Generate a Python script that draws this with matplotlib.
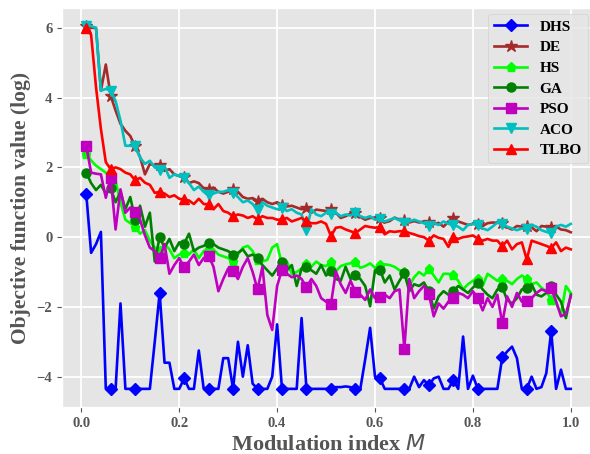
import numpy as np
import matplotlib
matplotlib.use("Agg")
import matplotlib.pyplot as plt

# modulation index grid, 0.01 .. 1.00
m_index = np.round(np.arange(1, 101) / 100, 2)

dhs = [1.25, -0.45, -0.2, 0.15, -4.35, -4.35, -4.35, -1.9, -4.35, -4.35,
       -4.35, -4.35, -4.35, -4.35, -3.0, -1.6, -3.6, -3.6, -4.35, -4.35,
       -4.05, -4.35, -4.35, -3.25, -4.35, -4.35, -4.35, -4.35, -3.47, -3.47,
       -4.35, -3.0, -4.0, -3.1, -4.2, -4.35, -4.35, -4.35, -4.0, -2.5,
       -4.35, -4.35, -4.35, -4.35, -2.32, -4.35, -4.35, -4.35, -4.35, -4.35,
       -4.35, -4.3, -4.3, -4.28, -4.3, -4.35, -4.35, -3.5, -2.6, -4.0,
       -4.05, -4.35, -4.35, -4.35, -4.35, -4.35, -4.35, -4.0, -4.3, -4.1,
       -4.25, -4.05, -4.0, -4.35, -4.35, -4.1, -4.35, -2.85, -4.35, -3.97,
       -4.35, -4.35, -4.35, -4.35, -4.35, -3.45, -3.28, -3.14, -3.47, -4.35,
       -4.35, -4.0, -4.35, -4.3, -3.9, -2.7, -4.35, -3.8, -4.35, -4.35]

de = [6.05, 6.0, 6.0, 4.2, 4.95, 4.05, 3.63, 3.25, 3.05, 2.9,
      2.6, 2.3, 1.8, 2.1, 2.05, 2.07, 1.9, 1.95, 1.8, 1.75,
      1.72, 1.55, 1.6, 1.55, 1.4, 1.38, 1.42, 1.3, 1.25, 1.3,
      1.37, 1.3, 1.15, 1.1, 1.12, 1.04, 1.1, 1.0, 0.95, 1.0,
      0.92, 0.88, 0.9, 0.85, 0.8, 0.84, 0.7, 0.79, 0.77, 0.75,
      0.82, 0.7, 0.55, 0.6, 0.68, 0.7, 0.58, 0.5, 0.55, 0.56,
      0.55, 0.42, 0.46, 0.56, 0.5, 0.5, 0.42, 0.46, 0.42, 0.45,
      0.44, 0.37, 0.41, 0.3, 0.45, 0.54, 0.45, 0.4, 0.35, 0.38,
      0.37, 0.32, 0.4, 0.42, 0.41, 0.41, 0.28, 0.22, 0.32, 0.3,
      0.32, 0.28, 0.17, 0.32, 0.3, 0.29, 0.3, 0.22, 0.2, 0.14]

hs = [2.38, 2.2, 2.05, 1.95, 1.85, 1.7, 1.6, 1.0, 0.5, 0.4,
      0.3, 0.1, 0.2, -0.1, -0.3, -0.4, -0.2, -0.35, -0.6, -0.5,
      -0.45, -0.5, -0.35, -0.6, -0.4, -0.35, -0.35, -0.5, -0.55, -0.6,
      -0.69, -0.5, -0.3, -0.25, -0.4, -0.65, -0.7, -0.65, -0.3, -0.2,
      -0.8, -0.7, -1.05, -1.0, -0.9, -0.77, -0.85, -0.7, -0.8, -0.83,
      -0.7, -0.98, -0.83, -0.78, -0.75, -0.71, -0.88, -0.83, -0.75, -0.88,
      -0.8, -0.78, -0.8, -0.85, -0.95, -1.0, -1.4, -1.15, -1.0, -1.1,
      -0.9, -1.1, -1.3, -1.05, -1.05, -1.09, -1.25, -1.5, -1.35, -1.25,
      -1.2, -1.4, -1.05, -1.15, -1.25, -1.19, -1.25, -1.35, -1.2, -1.1,
      -1.19, -1.35, -1.3, -1.45, -1.55, -1.79, -1.9, -2.2, -1.4, -1.6]

ga = [1.85, 1.55, 1.35, 1.5, 1.25, 1.4, 1.0, 1.3, 0.8, 1.15,
      0.5, 0.9, 0.3, 0.7, -0.7, 0.0, -0.3, -0.05, -0.4, -0.15,
      -0.19, 0.1, -0.4, -0.3, -0.25, -0.16, -0.2, -0.3, -0.35, -0.4,
      -0.5, -0.45, -0.35, -0.55, -0.5, -0.6, -0.8, -0.95, -1.1, -0.9,
      -0.72, -0.95, -0.8, -1.4, -0.9, -0.85, -0.95, -1.05, -0.8, -1.1,
      -0.97, -1.2, -1.25, -0.85, -1.2, -1.09, -1.2, -1.4, -1.98, -0.95,
      -0.93, -1.3, -1.1, -1.5, -1.25, -1.03, -1.55, -1.35, -1.4, -1.3,
      -1.55, -2.05, -1.7, -1.55, -1.65, -1.55, -1.4, -1.5, -1.6, -1.45,
      -1.31, -1.5, -1.65, -1.75, -1.5, -1.44, -1.8, -1.9, -1.75, -1.5,
      -1.47, -1.35, -1.65, -1.7, -1.6, -1.41, -1.65, -1.85, -2.32, -1.65]

pso = [2.62, 1.85, 1.82, 1.8, 1.13, 1.69, 0.22, 1.37, 0.7, 0.85,
       0.72, 0.5, 0.05, -0.3, -0.4, -0.61, -0.2, -1.05, -0.8, -0.6,
       -0.86, -0.7, -0.5, -0.8, -0.6, -0.53, -0.85, -1.55, -1.2, -0.9,
       -0.96, -1.2, -0.85, -0.6, -1.0, -1.5, -0.85, -2.23, -2.66, -1.4,
       -0.93, -1.05, -1.15, -1.1, -1.2, -1.44, -1.2, -1.4, -1.75, -1.85,
       -1.92, -0.98, -1.35, -1.6, -1.25, -1.57, -1.65, -1.8, -1.5, -1.75,
       -1.72, -1.65, -1.75, -1.55, -1.5, -3.2, -1.2, -1.75, -1.55, -1.4,
       -1.63, -2.27, -1.9, -2.05, -1.85, -1.75, -1.6, -1.65, -1.75, -1.55,
       -1.75, -2.1, -1.75, -2.0, -1.65, -2.47, -1.7, -2.0, -1.6, -1.85,
       -1.84, -1.75, -1.6, -1.5, -1.55, -1.47, -1.84, -2.27, -2.2, -1.7]

aco = [6.05, 6.05, 6.0, 4.2, 4.25, 4.2, 3.9, 3.34, 2.62, 2.62,
       2.6, 2.28, 2.1, 2.19, 2.0, 1.93, 2.04, 1.7, 1.8, 1.75,
       1.71, 1.55, 1.35, 1.45, 1.3, 1.2, 1.25, 1.3, 1.3, 1.35,
       1.28, 1.15, 1.0, 1.05, 0.95, 0.77, 1.0, 0.9, 0.85, 0.8,
       0.84, 0.75, 0.8, 0.7, 0.65, 0.2, 0.8, 0.65, 0.6, 0.7,
       0.65, 0.7, 0.6, 0.65, 0.62, 0.7, 0.6, 0.55, 0.6, 0.5,
       0.51, 0.45, 0.5, 0.55, 0.48, 0.41, 0.45, 0.5, 0.45, 0.4,
       0.32, 0.4, 0.35, 0.45, 0.38, 0.35, 0.3, 0.2, 0.35, 0.38,
       0.35, 0.25, 0.2, 0.3, 0.42, 0.38, 0.3, 0.25, 0.2, 0.25,
       0.22, 0.35, 0.3, 0.2, 0.15, 0.12, 0.3, 0.35, 0.3, 0.38]

tlbo = [6.0, 5.8, 4.3, 3.1, 2.15, 1.95, 2.0, 1.95, 1.85, 1.8,
        1.63, 1.7, 1.56, 1.5, 1.27, 1.3, 1.25, 1.15, 1.2, 1.1,
        1.08, 1.05, 0.95, 1.1, 0.95, 0.94, 0.8, 0.95, 0.75, 0.7,
        0.6, 0.65, 0.62, 0.55, 0.6, 0.51, 0.6, 0.55, 0.55, 0.5,
        0.51, 0.55, 0.45, 0.5, 0.55, 0.46, 0.4, 0.4, 0.45, 0.38,
        0.03, 0.27, 0.29, 0.22, 0.17, 0.12, 0.22, 0.32, 0.29, 0.27,
        0.29, 0.08, 0.17, 0.15, 0.17, 0.17, 0.12, 0.08, 0.03, 0.0,
        -0.1, 0.05, -0.02, -0.05, -0.28, 0.0, -0.05, 0.0, 0.02, 0.05,
        -0.04, -0.1, -0.05, -0.1, -0.1, -0.26, -0.1, -0.35, -0.2, -0.15,
        -0.64, -0.1, -0.15, -0.2, -0.25, -0.31, -0.15, -0.4, -0.3, -0.35]

labels = ["DHS", "DE", "HS", "GA", "PSO", "ACO", "TLBO"]
colors = ["b", "brown", "lime", "g", "m", "c", "r"]
markers = ["D", "*", "p", "o", "s", "v", "^"]

plt.style.use("ggplot")
plt.rcParams["font.family"] = ["Liberation Serif", "DejaVu Sans"]
plt.rcParams["mathtext.fontset"] = "custom"
plt.rcParams["mathtext.it"] = "DejaVu Sans:italic:normal"
plt.rcParams["mathtext.rm"] = "DejaVu Sans:normal"

fig = plt.figure(figsize=(5.9, 4.54), dpi=100)
ax = fig.add_axes([62 / 590, 1 - 407 / 454, 533 / 590, 399 / 454])

for ys, lab, col, mk in zip([dhs, de, hs, ga, pso, aco, tlbo], labels, colors, markers):
    ax.plot(m_index, ys, color=col, marker=mk, markevery=5, lw=1.9,
            markersize=9 if mk == "*" else 6.5, label=lab)

ax.set_yticks([-4, -2, 0, 2, 4, 6])
ax.set_xticks([0.0, 0.2, 0.4, 0.6, 0.8, 1.0])
ax.grid(True, color="white", lw=1.3)
ax.tick_params(labelsize=10.5, colors="#555555")
for t in ax.get_xticklabels() + ax.get_yticklabels():
    t.set_fontweight("bold")

ax.set_xlabel("Modulation index $M$", fontsize=16, fontweight="bold", color="#555555")
ax.set_ylabel("Objective function value (log)", fontsize=15.5, fontweight="bold", color="#555555")

ax.legend(loc="upper right", bbox_to_anchor=(588 / 590, 1 - 14 / 454),
          bbox_transform=fig.transFigure, prop={"weight": "bold", "size": 11},
          handlelength=2.2, labelspacing=0.45, borderaxespad=0.0)

fig.savefig("out.png", dpi=100)
plt.close(fig)
